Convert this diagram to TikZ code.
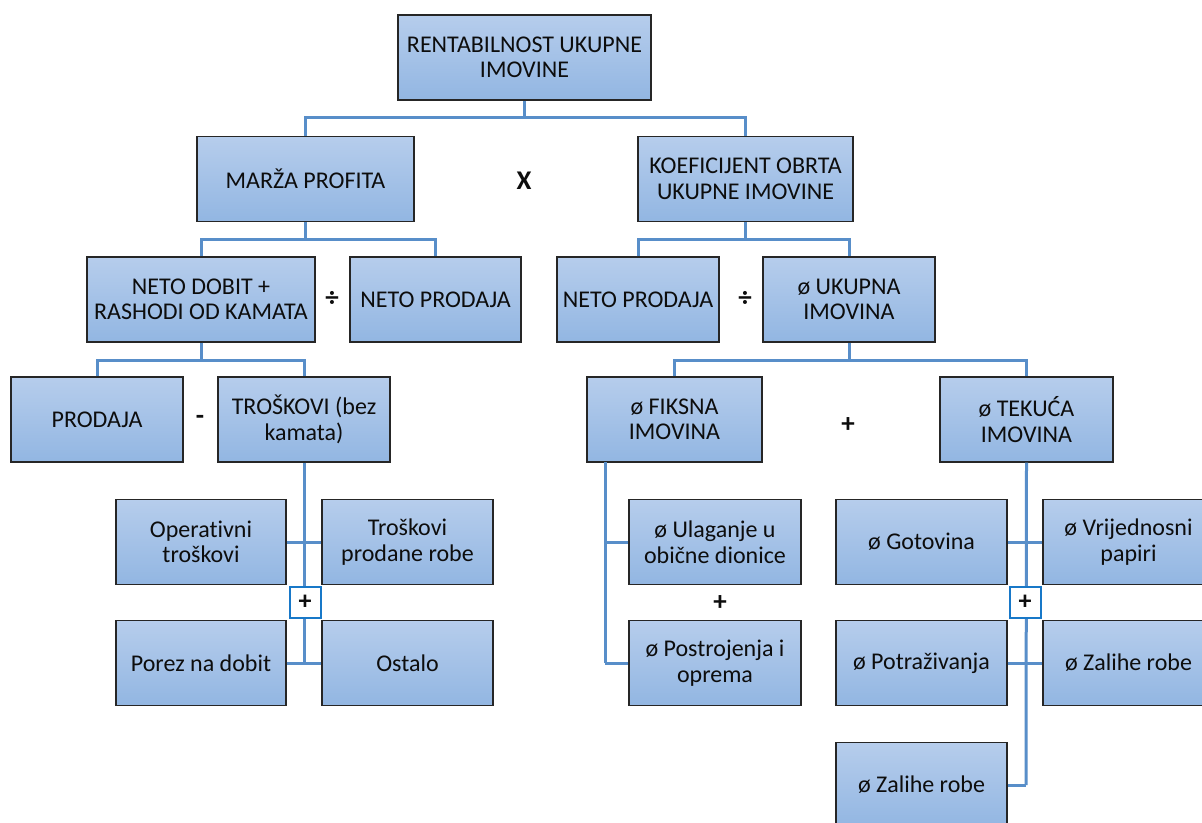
\documentclass[tikz,border=0pt]{standalone}
\usepackage{fontspec}
\setmainfont{Carlito}[Ligatures={NoCommon}]
\usetikzlibrary{calc}
\definecolor{boxtop}{RGB}{182,205,236}
\definecolor{boxbot}{RGB}{146,182,226}
\definecolor{boxline}{RGB}{38,38,38}
\definecolor{connc}{RGB}{88,142,201}
\definecolor{plusc}{RGB}{24,120,200}
\definecolor{txt}{RGB}{13,13,13}
\tikzset{
  box/.style={draw=boxline, line width=1.4pt, top color=boxtop, bottom color=boxbot,
    minimum height=85pt, inner sep=2pt, align=center, text=txt,
    font=\fontsize{24}{25.5}\selectfont},
  conn/.style={draw=connc, line width=3pt},
  opsym/.style={font=\fontsize{27}{28}\selectfont\bfseries, text=txt, inner sep=0pt},
  plusbox/.style={draw=plusc, line width=2pt, fill=white, minimum width=31pt, minimum height=31pt,
    inner sep=0pt, font=\fontsize{26}{27}\selectfont\bfseries, text=txt}
}
\begin{document}
\begin{tikzpicture}[x=1pt,y=-1pt]
\clip (0,0) rectangle (1202,822);
\fill[white] (0,0) rectangle (1202,822);
% boxes
\node[box, minimum width=253pt] (top) at (524.5,57.5) {RENTABILNOST UKUPNE\\IMOVINE};
\node[box, minimum width=217pt] (marza) at (305.5,179) {MARŽA PROFITA};
\node[box, minimum width=215pt] (koef) at (745.5,179) {KOEFICIJENT OBRTA\\UKUPNE IMOVINE};
\node[box, minimum width=228pt] (netodobit) at (201,299.5) {NETO DOBIT +\\RASHODI OD KAMATA};
\node[box, minimum width=171pt] (netoprodL) at (435.5,299.5) {NETO PRODAJA};
\node[box, minimum width=162pt] (netoprodR) at (638,299.5) {NETO PRODAJA};
\node[box, minimum width=172pt] (ukupna) at (849,299.5) {ø UKUPNA\\IMOVINA};
\node[box, minimum width=172pt] (prodaja) at (97,419.5) {PRODAJA};
\node[box, minimum width=172pt] (troskovi) at (304,419.5) {TROŠKOVI (bez\\kamata)};
\node[box, minimum width=175pt] (fiksna) at (674.5,419.5) {ø FIKSNA\\IMOVINA};
\node[box, minimum width=173pt] (tekuca) at (1026.5,419.5) {ø TEKUĆA\\IMOVINA};
\node[box, minimum width=170pt] (operativni) at (201,542) {Operativni\\troškovi};
\node[box, minimum width=171pt] (troskprod) at (407.5,542) {Troškovi\\prodane robe};
\node[box, minimum width=170pt] (porez) at (201,663) {Porez na dobit};
\node[box, minimum width=171pt] (ostalo) at (407.5,663) {Ostalo};
\node[box, minimum width=172pt] (ulaganje) at (715,542) {ø Ulaganje u\\obične dionice};
\node[box, minimum width=172pt] (postrojenja) at (715,663) {ø Postrojenja i\\oprema};
\node[box, minimum width=171pt] (gotovina) at (921.5,542) {ø Gotovina};
\node[box, minimum width=171pt] (vrijed) at (1128.5,542) {ø Vrijednosni\\papiri};
\node[box, minimum width=171pt] (potraz) at (921.5,663) {ø Potraživanja};
\node[box, minimum width=171pt] (zalihe1) at (1128.5,663) {ø Zalihe robe};
\node[box, minimum width=171pt] (zalihe2) at (921.5,785) {ø Zalihe robe};
% junctions
\coordinate (j1) at (524.5,117);
\coordinate (j2) at (305.5,239);
\coordinate (j3) at (745.5,239);
\coordinate (j4) at (201,360);
\coordinate (j5) at (849,360);
\coordinate (t1) at (304,542);
\coordinate (t2) at (304,663);
\coordinate (k1) at (1026,542);
\coordinate (k2) at (1026,663);
\coordinate (k3) at (1026,785);
\coordinate (f0) at (605,462);
\coordinate (f1) at (605,542);
\coordinate (f2) at (605,663);
% connectors
\draw[conn] (top.south) -- (j1);
\draw[conn] (marza.north) |- (j1) -| (koef.north);
\draw[conn] (marza.south) -- (j2);
\draw[conn] (netodobit.north) |- (j2) -| (netoprodL.north);
\draw[conn] (koef.south) -- (j3);
\draw[conn] (netoprodR.north) |- (j3) -| (ukupna.north);
\draw[conn] (netodobit.south) -- (j4);
\draw[conn] (prodaja.north) |- (j4) -| (troskovi.north);
\draw[conn] (ukupna.south) -- (j5);
\draw[conn] (fiksna.north) |- (j5) -| (tekuca.north);
\draw[conn] (troskovi.south) -- (t2);
\draw[conn] (operativni.east) -- (troskprod.west);
\draw[conn] (porez.east) -- (ostalo.west);
\draw[conn] (tekuca.south) -- (k3);
\draw[conn] (gotovina.east) -- (vrijed.west);
\draw[conn] (potraz.east) -- (zalihe1.west);
\draw[conn] (zalihe2.east) -- (k3);
\draw[conn] (f0) -- (f2);
\draw[conn] (f1) -- (ulaganje.west);
\draw[conn] (f2) -- (postrojenja.west);
% operators
\node[opsym] (opx) at (524,181) {X};
\node[opsym] (opd1) at (332,299) {÷};
\node[opsym] (opd2) at (745,299) {÷};
\node[opsym] (opm) at (200,420) {-};
\node[opsym] (opp1) at (848,425) {+};
\node[opsym] (opp2) at (720,603) {+};
\node[plusbox] (pb1) at (305,602) {+};
\node[plusbox] (pb2) at (1025,602) {+};
\end{tikzpicture}
\end{document}
